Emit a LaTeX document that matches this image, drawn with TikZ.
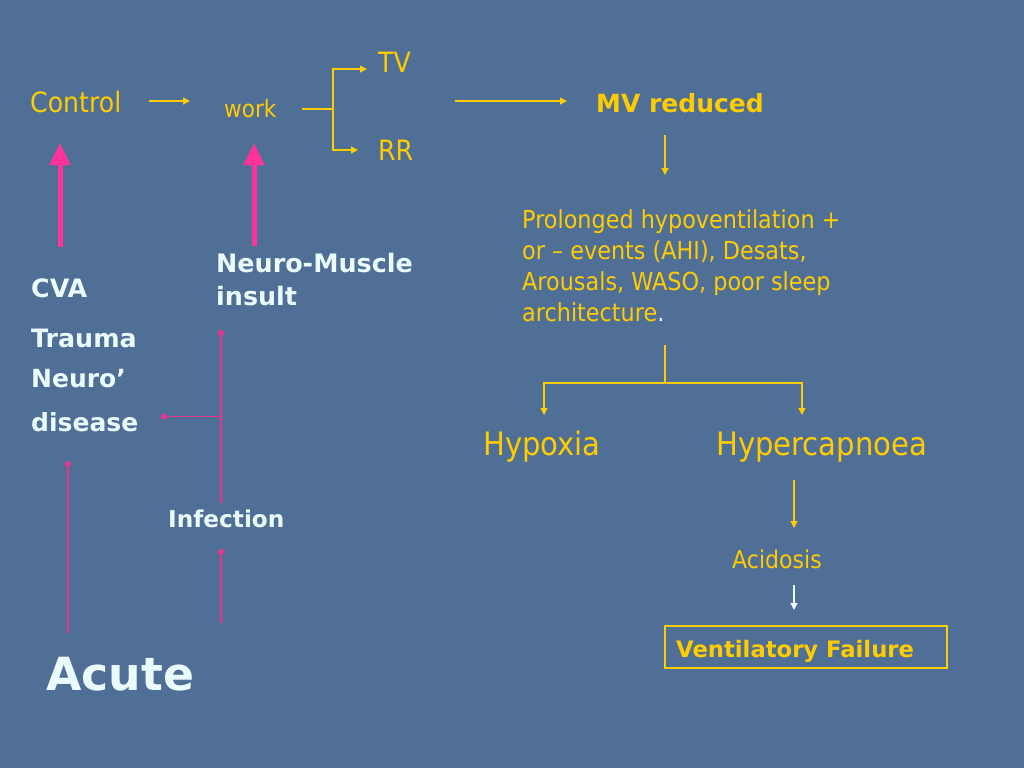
\documentclass[tikz,border=0pt]{standalone}
\usepackage{fontspec}
\setmainfont{DejaVu Sans}
\newfontfamily\narrowf{DejaVu Sans}[FakeStretch=0.9]
\usetikzlibrary{arrows.meta}
\definecolor{bg}{RGB}{80,111,150}
\definecolor{yel}{RGB}{255,204,0}
\definecolor{wht}{RGB}{235,252,255}
\definecolor{pnk}{RGB}{255,51,153}
\definecolor{pnkthin}{RGB}{232,51,143}
\newcommand\reg[2]{\narrowf\fontsize{#1}{#2}\selectfont}
\newcommand\bld[2]{\bfseries\fontsize{#1}{#2}\selectfont}
\begin{document}
\begin{tikzpicture}[x=1pt,y=-1pt,
  txt/.style={inner sep=0pt,anchor=base west},
  ytxt/.style={txt,text=yel},
  wtxt/.style={txt,text=wht},
  ylw/.style={draw=yel,line width=1.3pt},
  yarr/.style={ylw,-{Triangle[width=7pt,length=7pt]}},
  warr/.style={draw=wht,line width=1.3pt,-{Triangle[width=7pt,length=7pt]}},
  bigp/.style={draw=pnk,line width=5pt,-{Triangle[width=20pt,length=22pt]}},
  thinp/.style={draw=pnkthin,line width=1.5pt},
  dotp/.style={thinp,-{Circle[length=6pt]}}]
\fill[bg] (0,0) rectangle (1024,768);
\useasboundingbox (0,0) rectangle (1024,768);

% top row
\node[ytxt,font=\reg{28}{34}] (control) at (30,112) {Control};
\node[ytxt,font=\reg{24}{29}] (work) at (224,117) {work};
\node[ytxt,font=\reg{28}{34}] (tv) at (378,72) {TV};
\node[ytxt,font=\reg{28}{34}] (rr) at (378,160) {RR};
\node[ytxt,font=\bld{25}{30}] (mv) at (596,112) {MV reduced};

\coordinate (cw1) at (149,101); \coordinate (cw2) at (190,101);
\draw[yarr] (cw1) -- (cw2);
\coordinate (w1) at (302,109); \coordinate (wj) at (333,109);
\coordinate (tvj) at (333,69); \coordinate (tve) at (367,69);
\coordinate (rrj) at (333,150); \coordinate (rre) at (358,150);
\draw[ylw] (w1) -- (wj);
\draw[yarr] (wj) -- (tvj) -- (tve);
\draw[yarr] (wj) -- (rrj) -- (rre);
\coordinate (m1) at (455,101); \coordinate (m2) at (567,101);
\draw[yarr] (m1) -- (m2);

% right column
\coordinate (d1) at (665,135); \coordinate (d2) at (665,175);
\draw[yarr] (d1) -- (d2);
\node[ytxt,anchor=north west,align=left,font=\reg{24.8}{31}] (prol) at (522,209)
  {Prolonged hypoventilation +\\or \textendash{} events (AHI), Desats,\\Arousals, WASO, poor sleep\\architecture\textcolor{wht}{.}};
\coordinate (s1) at (665,345); \coordinate (s2) at (665,383);
\coordinate (sl) at (544,383); \coordinate (sr) at (802,383);
\coordinate (sle) at (544,415); \coordinate (sre) at (802,415);
\draw[ylw] (s1) -- (s2);
\draw[yarr] (s2) -- (sl) -- (sle);
\draw[yarr] (s2) -- (sr) -- (sre);
\node[ytxt,font=\reg{32.3}{38}] (hypox) at (483,455) {Hypoxia};
\node[ytxt,font=\reg{32.3}{38}] (hyperc) at (716,455) {Hypercapnoea};
\coordinate (h1) at (794,480); \coordinate (h2) at (794,528);
\draw[yarr] (h1) -- (h2);
\node[ytxt,font=\reg{24.5}{29}] (acid) at (732,568) {Acidosis};
\coordinate (a1) at (794,585); \coordinate (a2) at (794,610);
\draw[warr] (a1) -- (a2);
\draw[draw=yel,line width=1.3pt] (665,626) rectangle (947,668);
\node[ytxt,font=\bld{22.7}{27}] (vf) at (676,657) {Ventilatory Failure};

% left side
\coordinate (p1s) at (60,247); \coordinate (p1e) at (60,143);
\coordinate (p2s) at (254,246); \coordinate (p2e) at (254,143);
\draw[bigp] (p1s) -- (p1e);
\draw[bigp] (p2s) -- (p2e);
\node[wtxt,font=\bld{25.3}{29}] (cva) at (31,297) {CVA};
\node[wtxt,font=\bld{25.3}{29}] (trauma) at (31,347) {Trauma};
\node[wtxt,anchor=north west,align=left,font=\bld{25}{44}] (neuro) at (31,369) {Neuro\textquoteright\\disease};
\node[wtxt,anchor=north west,align=left,font=\bld{25.4}{33}] (nm) at (216,252.5) {Neuro-Muscle\\insult};
\node[wtxt,font=\bld{23.2}{27}] (inf) at (168,527) {Infection};
\node[wtxt,font=\bld{45.7}{54}] (acute) at (46,690) {Acute};

\coordinate (v1b) at (221,503); \coordinate (v1t) at (221,330);
\coordinate (vj) at (221,416.5); \coordinate (vl) at (161,416.5);
\draw[dotp] (v1b) -- (v1t);
\draw[dotp] (vj) -- (vl);
\coordinate (v2b) at (221,623); \coordinate (v2t) at (221,549);
\draw[dotp] (v2b) -- (v2t);
\coordinate (v3b) at (68,633); \coordinate (v3t) at (68,461);
\draw[dotp] (v3b) -- (v3t);
\end{tikzpicture}
\end{document}
